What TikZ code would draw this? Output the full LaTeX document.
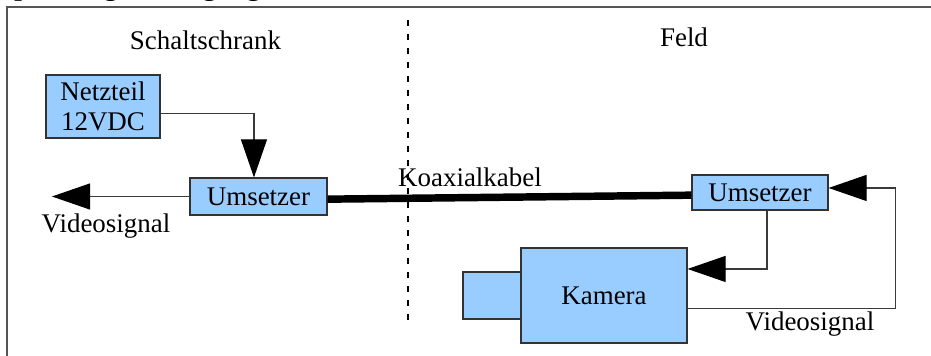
\documentclass[tikz,border=0pt]{standalone}
\usepackage{fontspec}
\setmainfont{Liberation Serif}
\usetikzlibrary{arrows.meta,calc}
\definecolor{boxfill}{HTML}{99CCFF}
\definecolor{boxline}{HTML}{333333}
\definecolor{wire}{HTML}{3A3A3A}
\definecolor{framecol}{HTML}{555555}
\begin{document}
\begin{tikzpicture}[x=0.75pt,y=-0.75pt,
  every node/.style={font=\fontsize{20.2}{22.5}\selectfont, text=black},
  box/.style={draw=boxline, fill=boxfill, line width=0.9pt, inner sep=0pt, anchor=center},
  wireline/.style={draw=wire, line width=0.8pt},
  arr/.style={wireline, -{Triangle[length=28.5pt,width=19.5pt,color=black,fill=black]}},
  coax/.style={draw=black, line width=5.6pt},
  sepline/.style={draw=black, line width=0.8pt, dash pattern=on 4.5pt off 6pt},
  lbl/.style={anchor=base, inner sep=0pt}]
\clip (0,0) rectangle (931,356);
% title (cut off at the top)
\node[anchor=base west, inner sep=0pt, font=\fontsize{20.5}{24}\selectfont\bfseries] (title) at (-1,-4) {Spannungsversorgung};
% frame
\draw[framecol, line width=0.8pt] (7,7) rectangle (960,380);
% separator
\coordinate (septop) at (408,20);
\coordinate (sepbot) at (408,324);
\draw[sepline] (septop) -- (sepbot);
% region labels
\node[lbl] (schrank) at (205.5,50) {Schaltschrank};
\node[lbl] (feld) at (684,47) {Feld};
% boxes
\node[box, minimum width=85.5pt, minimum height=47.25pt, align=center] (netz) at (103,106.5) {Netzteil\\12VDC};
\node[box, minimum width=102.75pt, minimum height=27.75pt] (uml) at (258.5,196.5) {Umsetzer};
\node[box, minimum width=102pt, minimum height=26.25pt] (umr) at (760,192.5) {Umsetzer};
\node[box, minimum width=43.5pt, minimum height=35.25pt] (lens) at (492,295.5) {};
\node[box, minimum width=124.5pt, minimum height=71.25pt] (kam) at (604,295.5) {Kamera};
% connectors
\draw[arr] ([yshift=-5.6pt]netz.east) -| ([xshift=-3.4pt]uml.north);
\coordinate (vidout) at (52,196.5);
\draw[arr] (uml.west) -- (vidout);
\node[lbl] (vidl) at (106,232) {Videosignal};
\draw[coax] ([yshift=-2pt]uml.east) -- ([yshift=-2pt]umr.west);
\node[lbl] (koax) at (470,186) {Koaxialkabel};
\draw[arr] ([xshift=5.25pt]umr.south) |- ([yshift=19.9pt]kam.east);
\draw[arr] ([yshift=-9.4pt]kam.east) -- ++(208,0) |- ([yshift=3.4pt]umr.east);
\node[lbl] (vidr) at (810,330) {Videosignal};
\end{tikzpicture}
\end{document}
